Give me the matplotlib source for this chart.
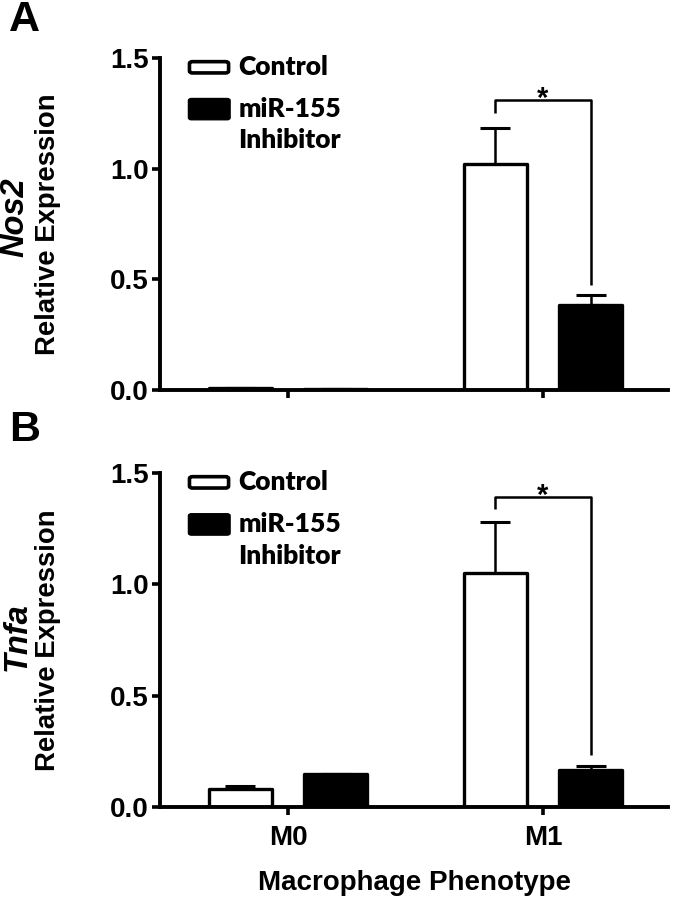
import numpy as np
import matplotlib
matplotlib.use("Agg")
import matplotlib.pyplot as plt
from matplotlib.patches import FancyBboxPatch

plt.rcParams["font.family"] = ["Liberation Sans", "DejaVu Sans"]
plt.rcParams["font.weight"] = "bold"

groups = ["M0", "M1"]
genes = ["Nos2", "Tnfa"]
panel_letters = ["A", "B"]

# relative expression
nos2_control = [0.010, 1.020]
nos2_control_err = [0.000, 0.165]
nos2_inhibitor = [0.005, 0.385]
nos2_inhibitor_err = [0.000, 0.042]

tnfa_control = [0.082, 1.050]
tnfa_control_err = [0.012, 0.232]
tnfa_inhibitor = [0.150, 0.165]
tnfa_inhibitor_err = [0.000, 0.020]

# significance brackets (M1): top, left drop end, right drop end
nos2_bracket = [1.31, 1.25, 0.475]
tnfa_bracket = [1.39, 1.34, 0.235]

x = np.arange(len(groups))
offset = 0.187
width = 0.245

fig = plt.figure(figsize=(6.74, 9.02), dpi=100)
ax_a = fig.add_axes([160 / 674, 1 - 390 / 902, 508 / 674, 332 / 902])
ax_b = fig.add_axes([160 / 674, 1 - 807 / 902, 508 / 674, 334 / 902])

data = [
    (nos2_control, nos2_control_err, nos2_inhibitor, nos2_inhibitor_err, nos2_bracket),
    (tnfa_control, tnfa_control_err, tnfa_inhibitor, tnfa_inhibitor_err, tnfa_bracket),
]

for ax, (ctrl, ctrl_err, inh, inh_err, br), gene, letter in zip(
        [ax_a, ax_b], data, genes, panel_letters):
    ctrl_x = x - offset
    inh_x = x + offset
    bars1 = ax.bar(ctrl_x, ctrl, width, color="white", edgecolor="black",
                   linewidth=2.4, zorder=2)
    bars2 = ax.bar(inh_x, inh, width, color="black", edgecolor="black",
                   linewidth=2.4, zorder=2)
    for b in list(bars1) + list(bars2):
        b.set_joinstyle("round")
    ax.errorbar(ctrl_x, ctrl, yerr=[np.zeros(2), ctrl_err], fmt="none",
                ecolor="black", elinewidth=1.8, capsize=11, capthick=2.2, zorder=1)
    ax.errorbar(inh_x, inh, yerr=[np.zeros(2), inh_err], fmt="none",
                ecolor="black", elinewidth=1.8, capsize=11, capthick=2.2, zorder=1)

    # significance bracket between M1 bars
    top, left_end, right_end = br
    ax.plot([ctrl_x[1], ctrl_x[1], inh_x[1], inh_x[1]],
            [left_end, top, top, right_end], color="black", lw=1.8,
            solid_joinstyle="round", solid_capstyle="butt")
    ax.text(x[1], top - 0.03, "*", ha="center", va="baseline", fontsize=21,
            fontweight="bold")

    ax.set_xlim(-0.502, 1.49)
    ax.set_ylim(0, 1.5)
    ax.set_yticks([0.0, 0.5, 1.0, 1.5])
    ax.set_yticklabels(["0.0", "0.5", "1.0", "1.5"])
    ax.set_xticks(x)
    ax.spines["top"].set_visible(False)
    ax.spines["right"].set_visible(False)
    ax.spines["left"].set_linewidth(2.8)
    ax.spines["bottom"].set_linewidth(2.8)
    ax.tick_params(axis="both", width=2.6, length=6, labelsize=20, pad=2)

    # legend drawn by hand
    ax.add_patch(FancyBboxPatch((0.058, 0.955), 0.077, 0.034,
                                boxstyle="round,pad=0,rounding_size=0.006",
                                transform=ax.transAxes, facecolor="white",
                                edgecolor="black", lw=2.6, clip_on=False))
    ax.add_patch(FancyBboxPatch((0.056, 0.814), 0.082, 0.064,
                                boxstyle="round,pad=0,rounding_size=0.006",
                                transform=ax.transAxes, facecolor="black",
                                edgecolor="black", lw=1.0, clip_on=False))
    lfont = dict(fontsize=19, fontweight="heavy", family=["Lato", "DejaVu Sans"],
                 transform=ax.transAxes, va="center", ha="left")
    ax.text(0.154, 0.972, "Control", **lfont)
    ax.text(0.154, 0.846, "miR-155", **lfont)
    ax.text(0.154, 0.752, "Inhibitor", **lfont)

ax_a.set_xticklabels([])
ax_b.set_xticklabels(groups)
ax_b.tick_params(axis="x", pad=7)
ax_b.set_xlabel("Macrophage Phenotype", fontsize=20, fontweight="bold", labelpad=14)

# panel letters and y titles
fig.text(9 / 674, 1 - 20 / 902, "A", fontsize=31, fontweight="bold", va="center")
fig.text(9 / 674, 1 - 430 / 902, "B", fontsize=31, fontweight="bold", va="center")
fig.text(15 / 674, 1 - 217 / 902, "Nos2", rotation=90, fontsize=23.5,
         fontweight="bold", style="italic", ha="center", va="center")
fig.text(48 / 674, 1 - 224 / 902, "Relative Expression", rotation=90, fontsize=19.8,
         fontweight="bold", ha="center", va="center")
fig.text(17 / 674, 1 - 637 / 902, "Tnfa", rotation=90, fontsize=23.5,
         fontweight="bold", style="italic", ha="center", va="center")
fig.text(48 / 674, 1 - 640 / 902, "Relative Expression", rotation=90, fontsize=19.8,
         fontweight="bold", ha="center", va="center")

fig.savefig("out.png", dpi=100)
